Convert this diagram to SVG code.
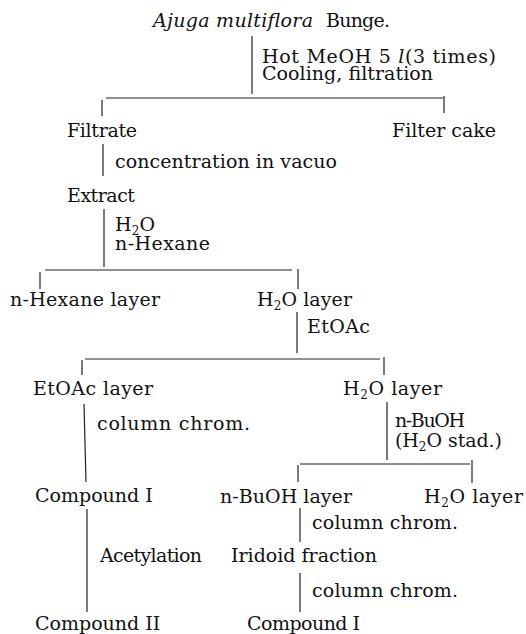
<svg xmlns="http://www.w3.org/2000/svg" width="526" height="634" viewBox="0 0 526 634">
<style>
text{font-family:"DejaVu Serif","Liberation Serif",serif;font-size:19px;fill:#111}
.it{font-style:italic}
.sub{font-size:12px}
#connectors line{stroke:#222;stroke-width:1.2;fill:none}
</style>
<rect width="526" height="634" fill="#fff"/>
<g id="connectors">
<line x1="252" y1="36" x2="252" y2="94"/>
<line x1="106" y1="98" x2="443" y2="98"/>
<line x1="102" y1="100" x2="102" y2="116"/>
<line x1="444" y1="96" x2="444" y2="113"/>
<line x1="103" y1="144" x2="103" y2="176"/>
<line x1="104" y1="209" x2="104" y2="267"/>
<line x1="45" y1="270" x2="292" y2="270"/>
<line x1="40" y1="272" x2="40" y2="289"/>
<line x1="298" y1="269" x2="298" y2="289"/>
<line x1="297" y1="312" x2="297" y2="353"/>
<line x1="85" y1="359" x2="380" y2="359"/>
<line x1="82" y1="360" x2="82" y2="375"/>
<line x1="384" y1="357" x2="384" y2="375"/>
<line x1="84" y1="404" x2="86" y2="482"/>
<line x1="387" y1="402" x2="387" y2="460"/>
<line x1="300" y1="464" x2="470" y2="464"/>
<line x1="298" y1="465" x2="298" y2="482"/>
<line x1="472" y1="460" x2="472" y2="483"/>
<line x1="87" y1="509" x2="87" y2="612"/>
<line x1="300" y1="508" x2="300" y2="542"/>
<line x1="300" y1="573" x2="300" y2="612"/>
</g>
<g id="plant">
<text class="it" x="153" y="27" textLength="160" lengthAdjust="spacing">Ajuga multiflora</text>
<text x="326" y="27" textLength="64" lengthAdjust="spacing">Bunge.</text>
</g>
<g id="step-extraction">
<text x="262" y="63" textLength="234" lengthAdjust="spacing">Hot MeOH 5 <tspan class="it">l</tspan>(3 times)</text>
<text x="262" y="80" textLength="171" lengthAdjust="spacing">Cooling, filtration</text>
</g>
<g id="filtrate"><text x="67" y="137" textLength="70" lengthAdjust="spacing">Filtrate</text></g>
<g id="filter-cake"><text x="392" y="137" textLength="104" lengthAdjust="spacing">Filter cake</text></g>
<g id="step-concentration"><text x="115" y="168" textLength="222" lengthAdjust="spacing">concentration in vacuo</text></g>
<g id="extract"><text x="67" y="202" textLength="68" lengthAdjust="spacing">Extract</text></g>
<g id="step-partition1">
<text x="115" y="231" textLength="40" lengthAdjust="spacing">H<tspan class="sub" dy="4">2</tspan><tspan dy="-4">O</tspan></text>
<text x="115" y="250" textLength="95" lengthAdjust="spacing">n-Hexane</text>
</g>
<g id="hexane-layer"><text x="10" y="306" textLength="150" lengthAdjust="spacing">n-Hexane layer</text></g>
<g id="water-layer-1"><text x="257" y="306" textLength="95" lengthAdjust="spacing">H<tspan class="sub" dy="4">2</tspan><tspan dy="-4">O layer</tspan></text></g>
<g id="step-etoac"><text x="307" y="333" textLength="63" lengthAdjust="spacing">EtOAc</text></g>
<g id="etoac-layer"><text x="33" y="395" textLength="120" lengthAdjust="spacing">EtOAc layer</text></g>
<g id="water-layer-2"><text x="343" y="395" textLength="99" lengthAdjust="spacing">H<tspan class="sub" dy="4">2</tspan><tspan dy="-4">O layer</tspan></text></g>
<g id="step-column1"><text x="97" y="430" textLength="153" lengthAdjust="spacing">column chrom.</text></g>
<g id="step-buoh">
<text x="395" y="427" textLength="70" lengthAdjust="spacing">n-BuOH</text>
<text x="395" y="447" textLength="107" lengthAdjust="spacing">(H<tspan class="sub" dy="4">2</tspan><tspan dy="-4">O stad.)</tspan></text>
</g>
<g id="compound-1a"><text x="35" y="502">Compound I</text></g>
<g id="buoh-layer"><text x="220" y="503" textLength="132" lengthAdjust="spacing">n-BuOH layer</text></g>
<g id="water-layer-3"><text x="424" y="503" textLength="99" lengthAdjust="spacing">H<tspan class="sub" dy="4">2</tspan><tspan dy="-4">O layer</tspan></text></g>
<g id="step-column2"><text x="312" y="529" textLength="146" lengthAdjust="spacing">column chrom.</text></g>
<g id="step-acetylation"><text x="100" y="562" textLength="102" lengthAdjust="spacing">Acetylation</text></g>
<g id="iridoid-fraction"><text x="231" y="562" textLength="146" lengthAdjust="spacing">Iridoid fraction</text></g>
<g id="step-column3"><text x="312" y="597" textLength="146" lengthAdjust="spacing">column chrom.</text></g>
<g id="compound-2"><text x="35" y="630">Compound II</text></g>
<g id="compound-1b"><text x="247" y="630" textLength="113" lengthAdjust="spacing">Compound I</text></g>
</svg>
